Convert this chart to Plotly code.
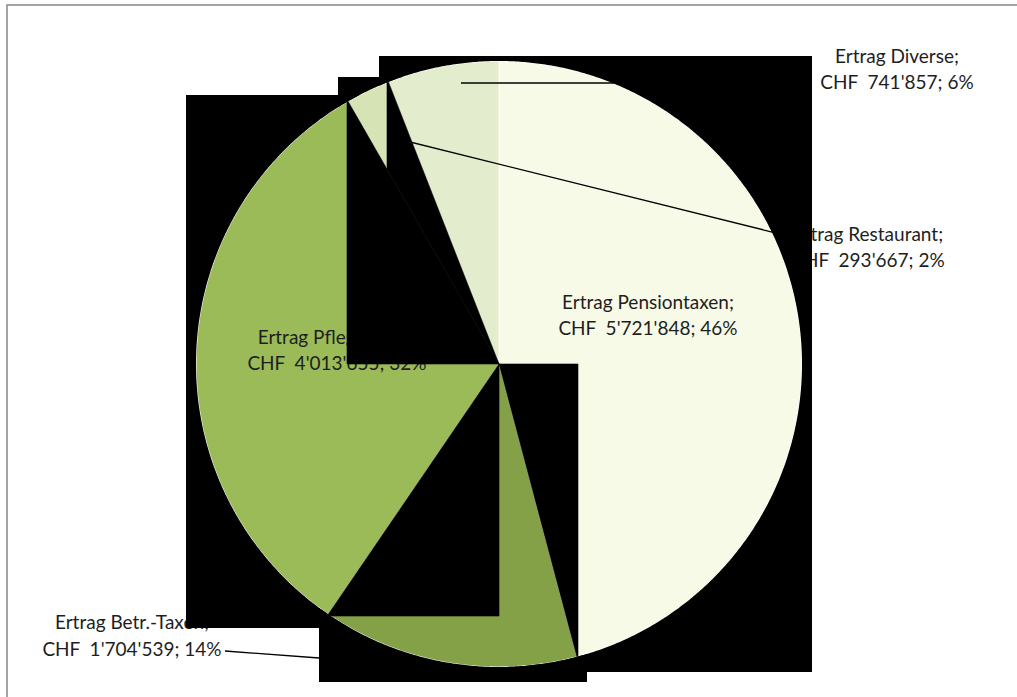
import math
import plotly.graph_objects as go

# ---------------- data ----------------
categories = ["Ertrag Pensiontaxen", "Ertrag Betr.-Taxen", "Ertrag Pflegetaxen",
              "Ertrag Restaurant", "Ertrag Diverse"]
values = [5721848, 1704539, 4013655, 293667, 741857]
colors = ["#F6FAE7", "#84A147", "#9BBB59", "#D5E3B5", "#E3EDCD"]

# ---------------- geometry / style ----------------
W, H = 1017, 697
CX, CY, R = 499, 364, 303          # pie centre and radius in pixels
FONT = dict(family="Lato, Calibri, sans-serif", size=19, color="#1e1e1e")

total = sum(values)


def chf(v):
    return f"{v:,}".replace(",", "'")


line1 = [c + ";" for c in categories]
line2 = [f"CHF\u00a0 {chf(v)}; {round(v / total * 100)}%" for v in values]

# label centres (pixels): x, y of first line, y of second line
label_pos = [(648, 301, 327), (132, 621, 648), (337, 336, 362), (868, 233, 259), (897, 55, 81)]
# leader lines (pixels)
leaders = [
    [(461, 83), (812, 83)],
    [(392, 137.5), (800, 239)],
    [(225, 651), (319, 658), (440, 666)],
]


def px(x):
    return x / W


def py(y):
    return 1 - y / H


cum = [0]
for v in values:
    cum.append(cum[-1] + v)


def slice_poly(i, n=240):
    a0 = 2 * math.pi * cum[i] / total
    a1 = 2 * math.pi * cum[i + 1] / total
    pts = [(CX, CY)]
    for k in range(n + 1):
        a = a0 + (a1 - a0) * k / n
        pts.append((CX + R * math.sin(a), CY - R * math.cos(a)))
    return pts


def disk_poly(n=900):
    return [(CX + R * math.sin(2 * math.pi * k / n), CY - R * math.cos(2 * math.pi * k / n))
            for k in range(n)]


def clip(poly, xmin, xmax, ymin, ymax):
    def clip_edge(pts, inside, inter):
        out = []
        if not pts:
            return out
        prev = pts[-1]
        for cur in pts:
            if inside(cur):
                if not inside(prev):
                    out.append(inter(prev, cur))
                out.append(cur)
            elif inside(prev):
                out.append(inter(prev, cur))
            prev = cur
        return out

    def ix(xc):
        def f(p, q):
            t = (xc - p[0]) / (q[0] - p[0])
            return (xc, p[1] + t * (q[1] - p[1]))
        return f

    def iy(yc):
        def f(p, q):
            t = (yc - p[1]) / (q[1] - p[1])
            return (p[0] + t * (q[0] - p[0]), yc)
        return f

    pts = poly
    pts = clip_edge(pts, lambda p: p[0] >= xmin, ix(xmin))
    pts = clip_edge(pts, lambda p: p[0] <= xmax, ix(xmax))
    pts = clip_edge(pts, lambda p: p[1] >= ymin, iy(ymin))
    pts = clip_edge(pts, lambda p: p[1] <= ymax, iy(ymax))
    return pts


def path(polys):
    s = ""
    for poly in polys:
        if len(poly) < 3:
            continue
        s += "M" + "L".join(f"{px(x):.6f},{py(y):.6f}" for x, y in poly) + "Z"
    return s


fig = go.Figure()
fig.add_trace(go.Pie(
    labels=categories, values=values, sort=False, direction="clockwise", rotation=0,
    marker=dict(colors=colors, line=dict(color="rgba(255,255,255,0.85)", width=1)),
    textinfo="none", hoverinfo="skip", showlegend=False,
    domain=dict(x=[(CX - R) / W, (CX + R) / W], y=[(H - CY - R) / H, (H - CY + R) / H]),
))

shapes = []

# labels (as shape labels so they sit above the pie but below the black artefacts)
for i, (lx, ly1, ly2) in enumerate(label_pos):
    for txt, ly in ((line1[i], ly1), (line2[i], ly2)):
        shapes.append(dict(
            type="rect", xref="paper", yref="paper",
            x0=px(lx - 120), x1=px(lx + 120), y0=py(ly + 10), y1=py(ly - 10),
            line=dict(width=0, color="rgba(0,0,0,0)"), fillcolor="rgba(0,0,0,0)",
            layer="above",
            label=dict(text=txt, textposition="middle center", font=FONT),
        ))

# leader lines
for pts in leaders:
    shapes.append(dict(type="path", xref="paper", yref="paper", layer="above",
                       path="M" + "L".join(f"{px(x):.6f},{py(y):.6f}" for x, y in pts),
                       line=dict(color="black", width=1.3)))

# black rendering artefacts outside the pie (bounding boxes minus the disk)
boxes = [(186, 95, 499, 628), (338, 77, 499, 364), (379, 56, 499, 364),
         (499, 56, 812, 672), (319, 364, 587, 682)]
disk = disk_poly()
for (x0, y0, x1, y1) in boxes:
    rect = [(x0, y0), (x1, y0), (x1, y1), (x0, y1)]
    inner = clip(disk, x0, x1, y0, y1)
    shapes.append(dict(type="path", xref="paper", yref="paper", layer="above",
                       path=path([rect, inner]), fillcolor="black", fillrule="evenodd",
                       line=dict(width=0, color="rgba(0,0,0,0)")))

# black artefacts over parts of slices
inner_black = [
    clip(slice_poly(2), 347, 499, 0, 364),
    clip(slice_poly(3), 387, 499, 0, 364),
    clip(slice_poly(1), 0, 499, 0, 616),
    clip(slice_poly(0), 0, 578, 364, H),
]
for poly in inner_black:
    shapes.append(dict(type="path", xref="paper", yref="paper", layer="above",
                       path=path([poly]), fillcolor="black",
                       line=dict(width=0.6, color="black")))

# chart border
shapes.append(dict(type="rect", xref="paper", yref="paper", layer="above",
                   x0=px(7), x1=px(1030), y0=py(710), y1=py(5),
                   line=dict(color="#868686", width=1.5), fillcolor="rgba(0,0,0,0)"))

fig.update_layout(
    width=W, height=H, margin=dict(l=0, r=0, t=0, b=0),
    paper_bgcolor="white", plot_bgcolor="white", showlegend=False,
    shapes=shapes,
)

fig.write_html("out.html", config={"displayModeBar": False},
               post_script="document.body.style.margin='0';document.body.style.padding='0';")
